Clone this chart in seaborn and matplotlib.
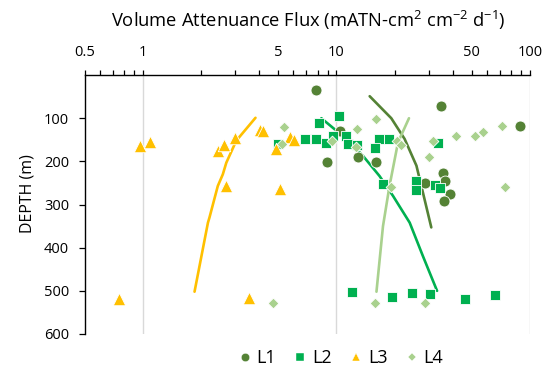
import numpy as np
import pandas as pd
import matplotlib
matplotlib.use("Agg")
import matplotlib.pyplot as plt
from matplotlib.lines import Line2D
from matplotlib.ticker import FixedLocator, NullFormatter
import seaborn as sns

# ---------------- data ----------------
series_names = ["L1", "L2", "L3", "L4"]

l1_flux = [7.87, 34.8, 89.2, 10.4, 8.97, 12.97, 16.1, 35.5, 36.3, 28.6, 38.5, 35.8]
l1_depth = [34, 71, 118, 129, 201, 190, 201, 227, 246, 249, 276, 291]

l2_flux = [8.12, 10.3, 6.85, 7.81, 8.87, 9.59, 11.25, 11.47, 12.76, 16.5, 18.7, 15.9,
           33.5, 17.4, 25.9, 25.9, 32.2, 34.1, 4.99,
           11.98, 19.45, 24.6, 30.3, 46.1, 65.9]
l2_depth = [112, 96, 147, 148, 158, 142, 141, 160, 162, 148, 148, 170,
            158, 252, 245, 266, 255, 261, 160,
            502, 515, 506, 507, 519, 510]

l3_flux = [0.962, 1.09, 2.44, 2.64, 3.01, 4.01, 4.17, 4.89, 5.73, 6.01, 2.70, 5.09, 0.751, 3.53]
l3_depth = [164, 156, 175, 162, 146, 127, 129, 172, 144, 151, 257, 263, 520, 516]

l4_flux = [5.34, 5.21, 9.5, 12.76, 12.67, 16.1, 20.5, 21.6, 31.4, 30.0, 41.3, 51.8,
           57.2, 71.7, 74.6, 19.1, 4.68, 15.9, 28.8]
l4_depth = [121, 160, 153, 125, 166, 102, 152, 162, 152, 191, 141, 141,
            133, 118, 259, 260, 528, 528, 528]

# fitted trend curves (flux, depth)
l1_fit_flux = [14.85, 19.2, 22.5, 25.9, 28.0, 30.9]
l1_fit_depth = [49, 100, 148, 210, 273, 353]
l2_fit_flux = [8.36, 11.25, 13.7, 16.7, 19.6, 23.9, 28.0, 33.1]
l2_fit_depth = [100, 148, 187, 234, 280, 342, 420, 500]
l3_fit_flux = [3.82, 3.04, 2.70, 2.59, 2.44, 2.21, 2.17, 1.85]
l3_fit_depth = [99, 152, 203, 230, 257, 330, 342, 502]
l4_fit_flux = [23.7, 20.8, 18.8, 17.4, 16.1]
l4_fit_depth = [100, 156, 257, 350, 502]

x_ticks = [0.5, 1, 5, 10, 50, 100]
x_tick_labels = ["0.5", "1", "5", "10", "50", "100"]
y_ticks = [100, 200, 300, 400, 500, 600]

# ---------------- styling ----------------
colors = {"L1": "#548235", "L2": "#00B050", "L3": "#FFC000", "L4": "#A9D18E"}
markers = {"L1": "o", "L2": "s", "L3": "^", "L4": "D"}
sizes = {"L1": 62, "L2": 62, "L3": 80, "L4": 30}

sns.set_theme(style="white")
plt.rcParams["font.family"] = ["Open Sans", "DejaVu Sans"]
plt.rcParams["mathtext.fontset"] = "custom"
plt.rcParams["mathtext.rm"] = "Open Sans"
plt.rcParams["mathtext.default"] = "regular"
plt.rcParams["text.color"] = "black"
plt.rcParams["axes.labelcolor"] = "black"

pts = pd.DataFrame({
    "flux": l1_flux + l2_flux + l3_flux + l4_flux,
    "depth": l1_depth + l2_depth + l3_depth + l4_depth,
    "series": (["L1"] * len(l1_flux) + ["L2"] * len(l2_flux)
               + ["L3"] * len(l3_flux) + ["L4"] * len(l4_flux)),
})
fits = pd.DataFrame({
    "flux": l1_fit_flux + l2_fit_flux + l3_fit_flux + l4_fit_flux,
    "depth": l1_fit_depth + l2_fit_depth + l3_fit_depth + l4_fit_depth,
    "series": (["L1"] * len(l1_fit_flux) + ["L2"] * len(l2_fit_flux)
               + ["L3"] * len(l3_fit_flux) + ["L4"] * len(l4_fit_flux)),
})

fig = plt.figure(figsize=(5.47, 3.68), dpi=100)
ax = fig.add_axes([0.1545, 0.0924, 0.969 - 0.1545, 0.796 - 0.0924])

sns.lineplot(data=fits, x="flux", y="depth", hue="series", palette=colors,
             sort=False, estimator=None, linewidth=1.9, legend=False, ax=ax, zorder=2)

for name in series_names:
    sub = pts[pts["series"] == name]
    sns.scatterplot(data=sub, x="flux", y="depth", color=colors[name],
                    marker=markers[name], s=sizes[name], edgecolor="white",
                    linewidth=0.6, legend=False, ax=ax, zorder=3)

ax.set_xscale("log")
ax.set_xlim(0.5, 100)
ax.set_ylim(600, 0)

ax.xaxis.tick_top()
ax.xaxis.set_label_position("top")
ax.set_xticks(x_ticks)
ax.set_xticklabels(x_tick_labels)
minor = [v * d for d in (0.1, 1, 10) for v in range(2, 10) if 0.5 < v * d < 100 and v * d not in x_ticks]
ax.xaxis.set_minor_locator(FixedLocator(minor))
ax.xaxis.set_minor_formatter(NullFormatter())
ax.set_yticks(y_ticks)

ax.tick_params(axis="x", which="both", direction="out", length=3.5, width=0.9,
               colors="black", labelsize=10.5, pad=7.5, top=True, bottom=False)
ax.tick_params(axis="y", which="major", direction="out", length=4, width=0.9,
               colors="black", labelsize=10.5, pad=7, left=True)

for s in ["right", "bottom"]:
    ax.spines[s].set_visible(False)
for s in ["top", "left"]:
    ax.spines[s].set_visible(True)
    ax.spines[s].set_color("black")
    ax.spines[s].set_linewidth(1.0)

ax.grid(False)
for gx in [1, 10, 100]:
    ax.axvline(gx, color="#d9d9d9", linewidth=1.0, zorder=1)

ax.set_xlabel("Volume Attenuance Flux (mATN-cm$^{2}$ cm$^{-2}$ d$^{-1}$)", fontsize=13.2)
ax.xaxis.set_label_coords(0.502, 1.185)
ax.set_ylabel("DEPTH (m)", fontsize=11.5)
ax.yaxis.set_label_coords(-0.11, 0.544)

handles = [Line2D([0], [0], linestyle="none", marker=markers[n], color=colors[n],
                  markeredgecolor="white", markeredgewidth=0.3,
                  markersize=6 if n != "L4" else 4.5) for n in series_names]
fig.legend(handles, series_names, loc="center", bbox_to_anchor=(0.623, 0.027),
           ncol=4, frameon=False, fontsize=13, handlelength=0.7, handletextpad=0.3,
           columnspacing=1.0, borderpad=0)

fig.savefig("out.png", dpi=100)
